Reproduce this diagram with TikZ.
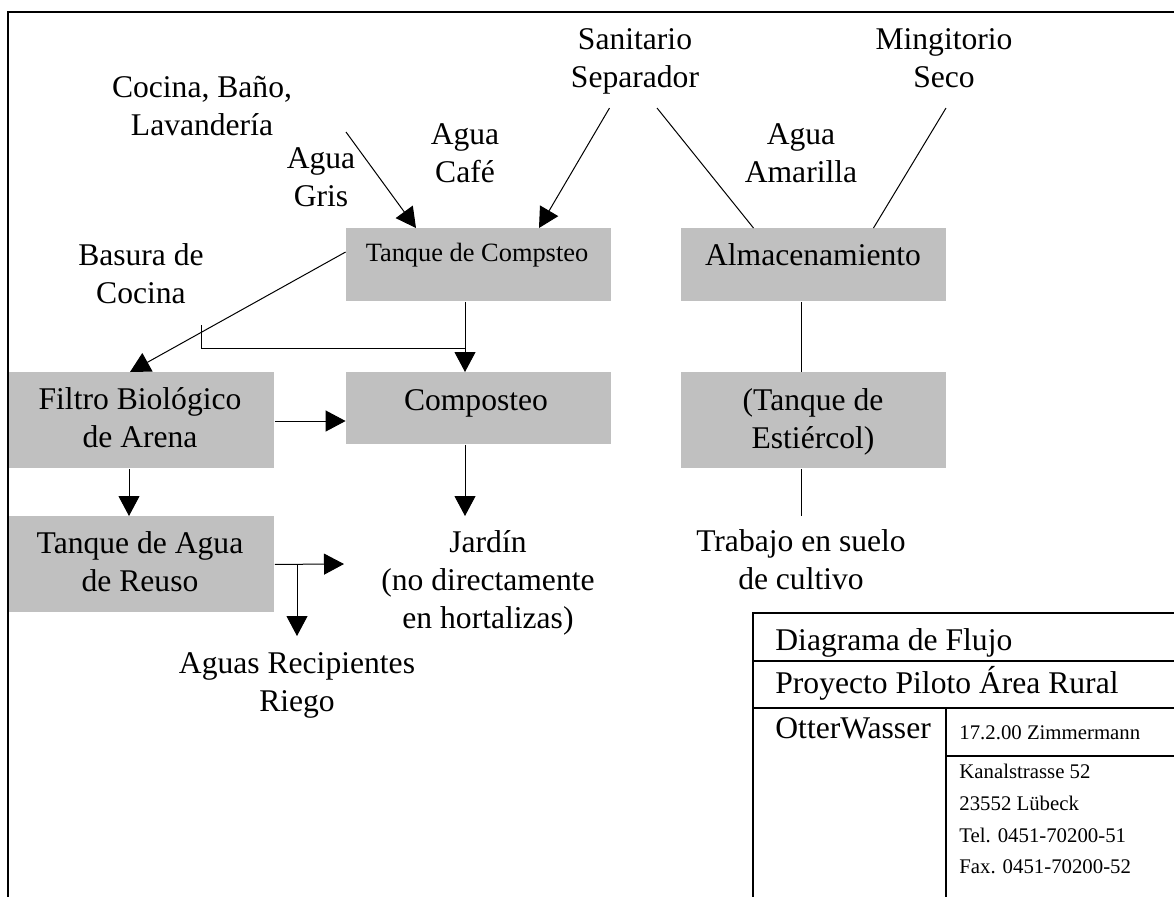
\documentclass[tikz,border=0pt]{standalone}
\usepackage{fontspec}
\setmainfont{Liberation Serif}
\usetikzlibrary{arrows.meta}
\definecolor{boxgray}{RGB}{192,192,192}
\begin{document}
\begin{tikzpicture}[x=0.5pt,y=-0.5pt,
  box/.style={fill=boxgray, draw=none, inner sep=0pt, minimum width=132.5pt, anchor=north west},
  lbl/.style={font=\fontsize{15.8}{19}\selectfont, align=center, inner sep=0pt},
  single/.style={font=\fontsize{15.8}{19}\selectfont, inner sep=0pt, anchor=base},
  smalltxt/.style={font=\fontsize{13.2}{16}\selectfont, inner sep=0pt, anchor=base},
  tbtxt/.style={font=\fontsize{15.8}{19}\selectfont, inner sep=0pt, anchor=base west},
  tinytxt/.style={font=\fontsize{10.4}{12}\selectfont, inner sep=0pt, anchor=base west},
  conn/.style={line width=0.5pt},
  arr/.style={conn, -{Triangle[length=10pt,width=10.5pt]}},
  framel/.style={line width=0.7pt}]
\useasboundingbox (0,0) rectangle (1174,896);
\clip (0,0) rectangle (1174,896);
\draw[framel] (8,12) rectangle (1190,910);

% boxes
\node[box, minimum height=36.5pt] (tc) at (345.6,228) {};
\node[box, minimum height=36.5pt] (alm) at (681,228) {};
\node[box, minimum height=48pt] (fil) at (9,372) {};
\node[box, minimum height=36pt] (comp) at (345.6,372) {};
\node[box, minimum height=48pt] (est) at (681,372) {};
\node[box, minimum height=48pt] (tda) at (9,516) {};

% box texts
\node[smalltxt] (tct) at (477,261) {Tanque de Compsteo};
\node[single] (almt) at (813,265) {Almacenamiento};
\node[lbl] (filt) at (140,420.4) {\strut Filtro Biológico\\de Arena\strut};
\node[single] (compt) at (476,410) {Composteo};
\node[lbl] (estt) at (813,421.4) {\strut (Tanque de\\Estiércol)\strut};
\node[lbl] (tdat) at (140,564.9) {\strut Tanque de Agua\\de Reuso\strut};

% free labels
\node[lbl] (coc) at (202,108.4) {\strut Cocina, Baño,\\Lavandería\strut};
\node[lbl] (gris) at (321,179.9) {\strut Agua\\Gris\strut};
\node[lbl] (cafe) at (465,155.9) {\strut Agua\\Café\strut};
\node[lbl] (bas) at (141,276.4) {\strut Basura de\\Cocina\strut};
\node[lbl] (san) at (635,60.4) {\strut Sanitario\\Separador\strut};
\node[lbl] (min) at (944,60.4) {\strut Mingitorio\\Seco\strut};
\node[lbl] (ama) at (801,155.9) {\strut Agua\\Amarilla\strut};
\node[lbl] (jar) at (488,582.4) {\strut Jardín\\(no directamente\\en hortalizas)\strut};
\node[lbl] (rie) at (297,684.4) {\strut Aguas Recipientes\\Riego\strut};
\node[lbl] (tra) at (801,562.4) {\strut Trabajo en suelo\\de cultivo\strut};

% coordinates for free ends
\coordinate (gs) at (346,132);
\coordinate (sa1) at (609.5,108);
\coordinate (sa2) at (657,108);
\coordinate (mi) at (946,108);
\coordinate (bc) at (201,325);
\coordinate (bj) at (465,348);
\coordinate (jt) at (465,516);
\coordinate (tr) at (344,564);
\coordinate (rb) at (297,564);
\coordinate (rt) at (297,636);
\coordinate (tb) at (801,516);

% connectors
\draw[arr] (gs) -- ([xshift=35.2pt]tc.north west);
\draw[arr] (sa1) -- ([xshift=96.7pt]tc.north west);
\draw[conn] (sa2) -- ([xshift=36.25pt]alm.north west);
\draw[conn] (mi) -- ([xshift=96.25pt]alm.north west);
\draw[arr] ([yshift=-12pt]tc.north west) -- ([xshift=60.5pt]fil.north west);
\draw[arr] ([xshift=59.7pt]tc.south west) -- ([xshift=59.7pt]comp.north west);
\draw[conn] (bc) |- (bj);
\draw[arr] ([yshift=-24.5pt]fil.north east) -- ([yshift=-24.5pt]comp.north west);
\draw[arr] ([xshift=60pt]fil.south west) -- ([xshift=60pt]tda.north west);
\draw[arr] ([xshift=59.7pt]comp.south west) -- (jt);
\draw[arr] (tda.east) -- (tr);
\draw[arr] (rb) -- (rt);
\draw[conn] ([xshift=60pt]alm.south west) -- ([xshift=60pt]est.north west);
\draw[conn] ([xshift=60pt]est.south west) -- (tb);

% title block
\draw[framel] (753,613) rectangle (1190,910);
\draw[framel] (753,661) -- (1190,661);
\draw[framel] (753,708) -- (1190,708);
\draw[framel] (946,708) -- (946,910);
\draw[framel] (946,756) -- (1190,756);
\node[tbtxt] (t1) at (775,650) {Diagrama de Flujo};
\node[tbtxt] (t2) at (775,693) {Proyecto Piloto Área Rural};
\node[tbtxt] (t3) at (775,738) {OtterWasser};
\node[tinytxt] (t4) at (959,739) {17.2.00 Zimmermann};
\node[tinytxt] (t5) at (959,778) {Kanalstrasse 52};
\node[tinytxt] (t6) at (959,810) {23552 Lübeck};
\node[tinytxt] (t7) at (959,842) {Tel. 0451-70200-51};
\node[tinytxt] (t8) at (959,873) {Fax. 0451-70200-52};
\end{tikzpicture}
\end{document}
